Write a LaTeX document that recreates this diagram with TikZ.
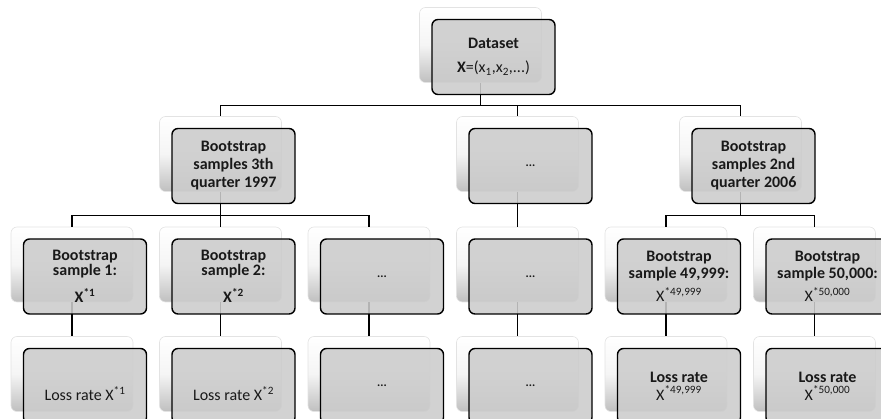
\documentclass[tikz,border=0pt]{standalone}
\usepackage{fontspec}
\setmainfont{Carlito}
\definecolor{frontgray}{RGB}{204,204,204}
\definecolor{txtcol}{RGB}{25,25,25}
\tikzset{
  backbox/.style={rectangle, rounded corners=6pt, minimum width=122pt, minimum height=75pt,
    inner sep=0pt, top color=white, bottom color=gray!50, middle color=white!92!gray,
    draw=gray!22, line width=0.6pt},
  frontbox/.style={rectangle, rounded corners=6pt, minimum width=123pt, minimum height=75pt,
    inner sep=0pt, draw=black, line width=1.4pt, fill=frontgray, fill opacity=0.88,
    text opacity=1, text=txtcol, align=center,
    font=\fontsize{16}{18}\selectfont\bfseries},
  dotsbox/.style={frontbox, font=\fontsize{12}{12}\selectfont\bfseries},
  link/.style={draw=black, line width=1.3pt},
}
\begin{document}
\begin{tikzpicture}[x=1pt, y=-1pt]
\useasboundingbox (0,0) rectangle (881,419);
\clip (0,0) rectangle (881,419);
% ---- back boxes
\node[backbox] (tb) at (480.5,45) {};
\node[backbox] (ab) at (220.5,154) {};
\node[backbox] (bb) at (517.5,154) {};
\node[backbox] (cb) at (740.5,154) {};
\foreach \n/\x in {1/72, 2/220.5, 3/369, 4/517.5, 5/666, 6/814.5}{
  \node[backbox] (s\n b) at (\x,264.5) {};
  \node[backbox] (r\n b) at (\x,374) {};
}
% ---- connectors
\foreach \c in {ab,bb,cb}{
  \draw[link] (tb.south) -- ++(0,23) -| (\c.north);
}
\foreach \c in {s1b,s2b,s3b}{
  \draw[link] (ab.south) -- ++(0,23.5) -| (\c.north);
}
\draw[link] (bb.south) -- (s4b.north);
\foreach \c in {s5b,s6b}{
  \draw[link] (cb.south) -- ++(0,23.5) -| (\c.north);
}
\foreach \n in {1,...,6}{
  \draw[link] (s\n b.south) -- (r\n b.north);
}
% ---- front boxes
\node[frontbox] (tf) at ([xshift=13pt,yshift=-12pt]tb.center)
  {Dataset\\[6pt]X{\mdseries =(x\textsubscript{1},x\textsubscript{2},...)}};
\node[frontbox] (af) at ([xshift=13pt,yshift=-12pt]ab.center)
  {Bootstrap\\samples 3th\\quarter 1997};
\node[dotsbox] (bf) at ([xshift=13pt,yshift=-12pt]bb.center) {...};
\node[frontbox] (cf) at ([xshift=13pt,yshift=-12pt]cb.center)
  {Bootstrap\\samples 2nd\\quarter 2006};
\node[frontbox, font=\fontsize{16}{15}\selectfont\bfseries] (s1f) at ([xshift=13pt,yshift=-12pt]s1b.center)
  {Bootstrap\\sample 1:\\[9pt]X\textsuperscript{*1}};
\node[frontbox, font=\fontsize{16}{15}\selectfont\bfseries] (s2f) at ([xshift=13pt,yshift=-12pt]s2b.center)
  {Bootstrap\\sample 2:\\[9pt]X\textsuperscript{*2}};
\node[dotsbox] (s3f) at ([xshift=13pt,yshift=-12pt]s3b.center) {...};
\node[dotsbox] (s4f) at ([xshift=13pt,yshift=-12pt]s4b.center) {...};
\node[frontbox, font=\fontsize{16}{17}\selectfont\bfseries] (s5f) at ([xshift=13pt,yshift=-12pt]s5b.center)
  {Bootstrap\\sample 49,999:\\[6pt]{\mdseries X\textsuperscript{*49,999}}};
\node[frontbox, font=\fontsize{16}{17}\selectfont\bfseries] (s6f) at ([xshift=13pt,yshift=-12pt]s6b.center)
  {Bootstrap\\sample 50,000:\\[6pt]{\mdseries X\textsuperscript{*50,000}}};
\node[frontbox, font=\fontsize{16}{18}\selectfont, text height=29pt, text depth=0pt] (r1f) at ([xshift=13pt,yshift=-12pt]r1b.center)
  {Loss rate X\textsuperscript{*1}};
\node[frontbox, font=\fontsize{16}{18}\selectfont, text height=29pt, text depth=0pt] (r2f) at ([xshift=13pt,yshift=-12pt]r2b.center)
  {Loss rate X\textsuperscript{*2}};
\node[dotsbox] (r3f) at ([xshift=13pt,yshift=-12pt]r3b.center) {...};
\node[dotsbox] (r4f) at ([xshift=13pt,yshift=-12pt]r4b.center) {...};
\node[frontbox, font=\fontsize{16}{18}\selectfont\bfseries] (r5f) at ([xshift=13pt,yshift=-12pt]r5b.center)
  {Loss rate\\{\mdseries X\textsuperscript{*49,999}}};
\node[frontbox, font=\fontsize{16}{18}\selectfont\bfseries] (r6f) at ([xshift=13pt,yshift=-12pt]r6b.center)
  {Loss rate\\{\mdseries X\textsuperscript{*50,000}}};
\end{tikzpicture}
\end{document}
